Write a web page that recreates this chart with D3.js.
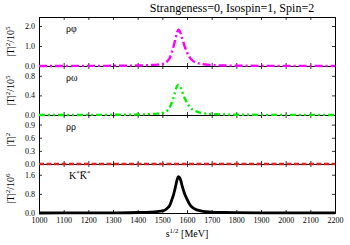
<!DOCTYPE html>
<html><head><meta charset="utf-8">
<script src="https://cdn.jsdelivr.net/npm/d3@7/dist/d3.min.js"></script>
<style>body{margin:0;background:#fff}svg{display:block}</style>
</head><body>
<svg id="chart" width="350" height="245"></svg>
<script>
// ---- data ----
const sqrtS      = [1000,1100,1200,1300,1400,1450,1480,1500,1510,1520,1530,1540,1545,1550,1555,1560,1565,1570,1575,1580,1590,1600,1610,1620,1640,1660,1700,1750,1800,1900,2000,2100,2200];
const rhoPhi     = [0.000,0.003,0.005,0.010,0.025,0.045,0.070,0.100,0.140,0.240,0.400,0.750,0.950,1.200,1.450,1.680,1.810,1.760,1.600,1.400,1.000,0.680,0.450,0.300,0.160,0.100,0.050,0.025,0.015,0.008,0.005,0.004,0.003];
const rhoOmega   = [0.000,0.001,0.002,0.004,0.010,0.018,0.028,0.040,0.055,0.090,0.150,0.280,0.350,0.440,0.530,0.590,0.620,0.600,0.550,0.480,0.350,0.250,0.170,0.120,0.070,0.040,0.020,0.010,0.006,0.003,0.002,0.002,0.001];
const rhoRho     = [0,0,0,0,0,0,0,0,0,0,0,0,0,0,0,0,0,0,0,0,0,0,0,0,0,0,0,0,0,0,0,0,0];
const kstarKstar = [0.000,0.002,0.004,0.008,0.020,0.035,0.060,0.090,0.120,0.200,0.320,0.600,0.750,0.950,1.180,1.400,1.520,1.480,1.350,1.150,0.820,0.580,0.380,0.250,0.130,0.080,0.040,0.020,0.012,0.006,0.004,0.003,0.002];
const xTicks     = [1000,1100,1200,1300,1400,1500,1600,1700,1800,1900,2000,2100,2200];
const yTicks1    = [0.0,1.0,2.0];
const yTicks2    = [0.0,0.4,0.8];
const yTicks3    = [0.0,0.3,0.6,0.9];
const yTicks4    = [0.0,0.8,1.6];
const yMax       = [2.45,1.0,1.12,2.05];
const panelNames = ["ρφ","ρω","ρρ","K*K*"];
const yTitles    = [["|T|","2","/10","5"],["|T|","2","/10","5"],["|T|","2","",""],["|T|","2","/10","6"]];
const titleText  = "Strangeness=0, Isospin=1, Spin=2";
const xTitle     = "s";

// ---- layout ----
const svg = d3.select("#chart");
const L = 39, R = 335, top0 = 17, ph = 49;
const font = "'Liberation Serif','Times New Roman',serif";
const x = d3.scaleLinear().domain([1000,2200]).range([L,R]);

const series = [rhoPhi, rhoOmega, rhoRho, kstarKstar];
const ticks = [yTicks1,yTicks2,yTicks3,yTicks4];
const styles = [
  {color:"#ff00ff", w:2.4, dash:"8,3,2,3"},
  {color:"#00ee00", w:2.4, dash:"6,3,2,3,2,3"},
  {color:"#e02020", w:2.3, dash:"5,2.5"},
  {color:"#000000", w:2.8, dash:null}
];

svg.append("text").attr("x",232).attr("y",12).attr("text-anchor","middle")
  .attr("font-family",font).attr("font-size",12).text(titleText);

const axesLayer = svg.append("g");
const curveLayer = svg.append("g");

series.forEach((vals,i)=>{
  const t = top0 + i*ph, b = t + ph;
  const y = d3.scaleLinear().domain([0,yMax[i]]).range([b,t]);
  const g = axesLayer.append("g");
  const fmt = d3.format(".1f");

  // axes with inward ticks
  const ax = [
    g.append("g").attr("transform",`translate(${L},0)`).call(d3.axisLeft(y).tickValues(ticks[i]).tickSize(-3).tickPadding(4).tickFormat(fmt)),
    g.append("g").attr("transform",`translate(${R},0)`).call(d3.axisRight(y).tickValues(ticks[i]).tickSize(-3).tickFormat("")),
    g.append("g").attr("transform",`translate(0,${t})`).call(d3.axisTop(x).tickValues(xTicks).tickSize(-3).tickFormat("")),
    g.append("g").attr("transform",`translate(0,${b})`).call(d3.axisBottom(x).tickValues(xTicks).tickSize(-3).tickPadding(4).tickFormat(i===3?d3.format("d"):""))
  ];
  ax.forEach(a=>{
    a.selectAll("text").attr("font-family",font).attr("font-size",8).attr("fill","#000");
    a.selectAll("line").attr("stroke","#000").attr("stroke-width",0.8);
    a.select(".domain").attr("stroke","#000").attr("stroke-width",1);
  });

  // curve (drawn in a layer above all axes)
  const line = d3.line().x((d,k)=>x(sqrtS[k])).y(d=>y(d)).curve(d3.curveMonotoneX);
  const p = curveLayer.append("path").datum(vals).attr("d",line).attr("fill","none")
    .attr("stroke",styles[i].color).attr("stroke-width",styles[i].w);
  if(styles[i].dash) p.attr("stroke-dasharray",styles[i].dash);

  // panel label
  const lab = g.append("text").attr("x",66).attr("y",t+15).attr("font-family",font).attr("font-size",10);
  if(i===3){
    lab.attr("x",69);
    lab.append("tspan").text("K");
    lab.append("tspan").attr("dy",-4).attr("font-size",7).text("*");
    lab.append("tspan").attr("dy",4).text("K\u0305");
    lab.append("tspan").attr("dy",-4).attr("font-size",7).text("*");
  } else {
    lab.text(panelNames[i]);
  }

  // y title
  const yt = yTitles[i];
  const ty = g.append("text").attr("transform",`translate(14,${t+ph/2}) rotate(-90)`)
    .attr("text-anchor","middle").attr("font-family",font).attr("font-size",10);
  ty.append("tspan").text(yt[0]);
  ty.append("tspan").attr("dy",-4).attr("font-size",7).text(yt[1]);
  if(yt[2]){
    ty.append("tspan").attr("dy",4).text(yt[2]);
    ty.append("tspan").attr("dy",-4).attr("font-size",7).text(yt[3]);
  }
});

// x title
const xt = svg.append("text").attr("x",187).attr("y",237).attr("text-anchor","middle")
  .attr("font-family",font).attr("font-size",10);
xt.append("tspan").text(xTitle);
xt.append("tspan").attr("dy",-4).attr("font-size",7).text("1/2");
xt.append("tspan").attr("dy",4).text(" [MeV]");
</script>
</body></html>
